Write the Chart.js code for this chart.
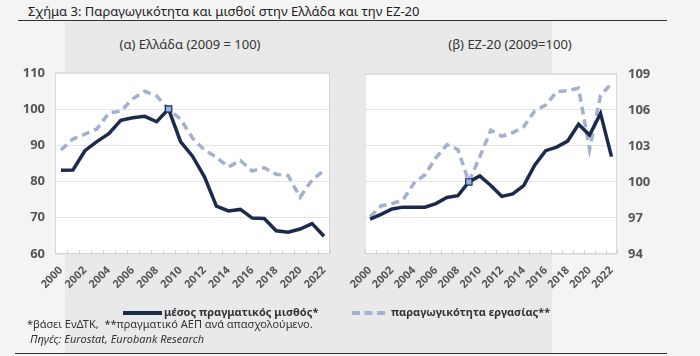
<!DOCTYPE html>
<html><head><meta charset="utf-8">
<script src="https://cdn.jsdelivr.net/npm/chart.js@4/dist/chart.umd.min.js"></script>
<style>
html,body{margin:0;padding:0;}
body{width:700px;height:356px;position:relative;background:#f4f4f4;font-family:"Noto Sans",sans-serif;overflow:hidden;}
#panel{position:absolute;left:65px;top:21px;width:487px;height:333px;background:#e9e9e9;}
#title{position:absolute;left:28px;top:2px;font-size:13px;color:#222;white-space:nowrap;}
#uline{position:absolute;left:18px;top:20px;width:649px;height:1px;background:#333;}
#bline{position:absolute;left:15px;top:353px;width:652px;height:1px;background:#333;}
.sub{position:absolute;font-size:13px;color:#333;white-space:nowrap;transform:translateX(-50%);}
#c1{position:absolute;left:0;top:55px;}
#c2{position:absolute;left:350px;top:55px;}
.leg{position:absolute;top:304px;font-size:11px;font-weight:bold;color:#333;white-space:nowrap;}
.sw{display:inline-block;width:39px;vertical-align:middle;margin-right:2px;}
#f1{position:absolute;left:27px;top:316px;font-size:11px;color:#333;white-space:nowrap;}
#f2{position:absolute;left:30px;top:331px;font-size:11px;color:#333;font-style:italic;white-space:nowrap;}
</style></head>
<body>
<div id="panel"></div>
<div id="title">Σχήμα 3: Παραγωγικότητα και μισθοί στην Ελλάδα και την ΕΖ-20</div>
<div id="uline"></div>
<div class="sub" style="left:190px;top:35px;">(α) Ελλάδα (2009 = 100)</div>
<div class="sub" style="left:510px;top:35px;">(β) EZ-20 (2009=100)</div>
<canvas id="c1" width="340" height="250"></canvas>
<canvas id="c2" width="350" height="250"></canvas>
<div class="leg" style="left:123px;"><span class="sw" style="border-top:4px solid #1c2a4e;"></span>μέσος πραγματικός μισθός*</div>
<div class="leg" style="left:352px;"><span class="sw" style="width:33px;border-top:4px dashed #a3b1d6;margin-right:6px;"></span>παραγωγικότητα εργασίας**</div>
<div id="f1">*βάσει ΕνΔΤΚ,&nbsp; **πραγματικό ΑΕΠ ανά απασχολούμενο.</div>
<div id="f2">Πηγές: Eurostat, Eurobank Research</div>
<div id="bline"></div>
<script>
const years = ["2000","2001","2002","2003","2004","2005","2006","2007","2008","2009","2010","2011","2012","2013","2014","2015","2016","2017","2018","2019","2020","2021","2022"];
const grWage = [83.1,83.2,88.5,91.0,93.2,96.9,97.6,98.0,96.5,100,91.0,87.0,81.3,73.2,71.9,72.3,69.9,69.8,66.4,66.0,66.9,68.4,64.9];
const grProd = [88.7,91.7,93.1,94.5,98.9,99.4,102.8,104.9,103.6,100,97.2,92.0,88.7,86.7,84.0,85.8,82.9,83.8,82.0,81.6,75.7,80.4,83.1];
const ezWage = [96.9,97.3,97.75,97.9,97.9,97.9,98.2,98.7,98.85,100,100.5,99.7,98.8,99.0,99.7,101.4,102.6,102.9,103.4,104.8,103.9,105.7,102.1];
const ezProd = [97.1,98.0,98.2,98.5,99.9,100.6,102.0,103.1,102.7,100,102.1,104.3,103.8,104.1,104.6,105.9,106.4,107.5,107.6,107.8,102.7,107.2,108.2];
const grTicks = [60,70,80,90,100,110];
const ezTicks = [94,97,100,103,106,109];

const NAVY = '#1c2a4e', LIGHT = '#a3b1cf';
const plotBg = {
  id:'plotBg',
  beforeDraw(chart){
    const {ctx, chartArea:a} = chart;
    ctx.save(); ctx.fillStyle='#fff'; ctx.fillRect(a.left,a.top,a.right-a.left,a.bottom-a.top); ctx.restore();
  },
  afterDatasetsDraw(chart){
    const {ctx, chartArea:a} = chart;
    ctx.save(); ctx.strokeStyle='#d6d6d6'; ctx.lineWidth=1;
    ctx.strokeRect(a.left+0.5,a.top+0.5,a.right-a.left-1,a.bottom-a.top-1);
    const xs = chart.scales.x;
    ctx.strokeStyle='#cfcfcf';
    for(let i=0;i<=years.length;i++){
      const px = Math.round(xs.getPixelForTick(Math.min(i,years.length-1)) + (i===years.length? xs.width/years.length/2 : -xs.width/years.length/2))+0.5;
      ctx.beginPath(); ctx.moveTo(px,a.bottom-1); ctx.lineTo(px,a.bottom-4); ctx.stroke();
    }
    ctx.restore();
  }
};

function makeChart(id, wage, prod, ticks, right, pad, yW){
  const tickFont = {family:'"Noto Sans", sans-serif', size:13, weight:'bold'};
  return new Chart(document.getElementById(id), {
    type:'line',
    data:{labels:years, datasets:[
      {label:'παραγωγικότητα εργασίας**', data:prod, borderColor:LIGHT, borderWidth:3.5, borderDash:[8,5], pointRadius:0, tension:0},
      {label:'μέσος πραγματικός μισθός*', data:wage, borderColor:NAVY, borderWidth:3.5, tension:0,
       pointStyle:'rect', pointBackgroundColor:'#8fb2ea', pointBorderColor:NAVY, pointBorderWidth:1.2,
       pointRadius:(c)=>c.dataIndex===9?4.5:0, order:-1}
    ]},
    options:{
      responsive:false, animation:false, maintainAspectRatio:false,
      layout:{padding:pad},
      plugins:{legend:{display:false}, tooltip:{enabled:false}},
      scales:{
        x:{offset:true, grid:{display:false}, border:{display:false},
           afterFit(s){s.height=51;},
           ticks:{autoSkip:false, minRotation:45, maxRotation:45, padding:2, color:'#555',
                  font:{family:'"Noto Sans", sans-serif', size:11, weight:'bold'},
                  callback:(v,i)=> i%2===0 ? years[i] : ''}},
        y:{position:right?'right':'left', min:ticks[0], max:ticks[ticks.length-1],
           afterFit(s){s.width=yW;},
           afterBuildTicks(s){s.ticks = ticks.map(v=>({value:v}));},
           grid:{color:'#e4e4e4', drawTicks:false}, border:{display:false},
           ticks:{color:'#555', font:tickFont, padding:right?11:10}}
      }
    },
    plugins:[plotBg]
  });
}
makeChart('c1', grWage, grProd, grTicks, false, {top:8,right:10,left:0,bottom:0}, 55);
makeChart('c2', ezWage, ezProd, ezTicks, true, {top:7,right:43,left:13,bottom:0}, 40);
</script>
</body></html>
